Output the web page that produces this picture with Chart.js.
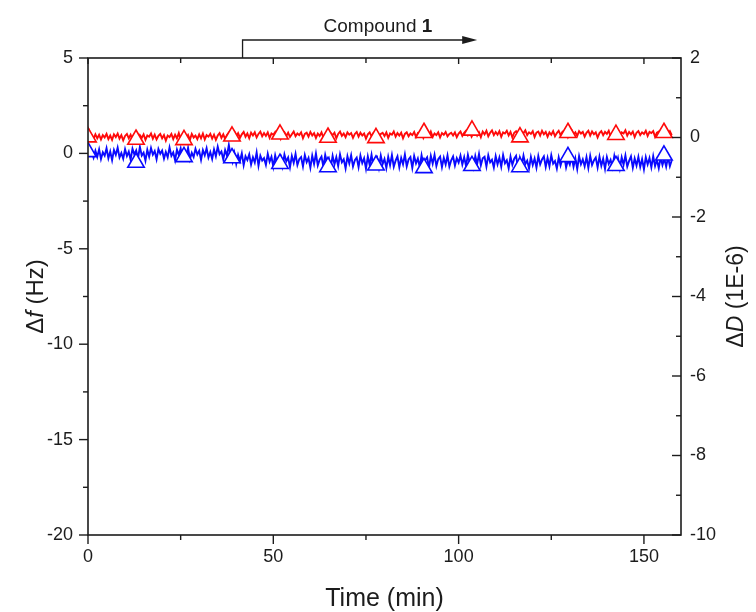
<!DOCTYPE html>
<html>
<head>
<meta charset="utf-8">
<script src="https://cdn.jsdelivr.net/npm/chart.js@4.4.1/dist/chart.umd.min.js"></script>
<style>
  html, body { margin: 0; padding: 0; background: #fff; }
  canvas { display: block; }
</style>
</head>
<body>
<canvas id="qcm" width="756" height="612"></canvas>
<script>
// QCM-D trace: frequency shift (left axis) and dissipation shift (right axis)
const sampleStep = 0.5; // minutes between recorded points

// Δf in Hz, one value per sample
const frequencyShift = [
  0.52, 0.25, 0.08, -0.22, 0.14, -0.18, 0.21, -0.30, 0.06, -0.12, 0.27, -0.25, 0.10, -0.35, 0.18, -0.08, 0.30, -0.21, 0.02, -0.28,
  0.22, -0.14, 0.09, -0.33, 0.25, -0.05, 0.16, -0.26, 0.34, -0.11, 0.04, -0.38, 0.19, -0.17, 0.28, -0.07, 0.12, -0.31, 0.23, -0.02,
  0.15, -0.27, 0.08, -0.20, 0.31, -0.13, 0.05, -0.36, 0.20, -0.09, 0.26, -0.24, 0.11, -0.16, 0.29, -0.30, 0.03, -0.19, 0.24, -0.06,
  0.13, -0.34, 0.17, -0.10, 0.27, -0.22, 0.07, -0.29, 0.21, -0.15, 0.35, -0.04, 0.10, -0.32, 0.18, -0.12,
  0.44, -0.10, -0.45, 0.02, -0.55, -0.08, -0.40, 0.00, -0.62, -0.15, -0.35, -0.05, -0.58, -0.20, -0.48, 0.05, -0.65, -0.12, -0.38, -0.25,
  -0.60, -0.02, -0.44, -0.18, -0.70, -0.10, -0.52, -0.28, -0.15, -0.66, -0.06, -0.42, -0.22, -0.72, -0.14, -0.50, -0.03, -0.61, -0.30, -0.19,
  -0.68, -0.09, -0.46, -0.24, -0.75, -0.12, -0.55, -0.01, -0.63, -0.33, -0.17, -0.70, -0.08, -0.49, -0.27, -0.74, -0.13, -0.58, -0.20, -0.66,
  -0.05, -0.47, -0.31, -0.78, -0.15, -0.53, -0.10, -0.69, -0.36, -0.22, -0.72, -0.11, -0.51, -0.26, -0.80, -0.16, -0.60, -0.07, -0.67, -0.34,
  -0.21, -0.74, -0.12, -0.56, -0.29, -0.77, -0.18, -0.62, -0.09, -0.70, -0.38, -0.15, -0.73, -0.24, -0.57, -0.06, -0.68, -0.32, -0.19, -0.76,
  -0.14, -0.52, -0.27, -0.71, -0.10, -0.61, -0.35, -0.20, -0.75, -0.13, -0.54, -0.08, -0.66, -0.30, -0.17, -0.72, -0.23, -0.58, -0.11, -0.69,
  -0.36, -0.16, -0.63, -0.25, -0.48,
  -0.12, -0.58, -0.20, -0.66, -0.08, -0.50, -0.30, -0.72, -0.14, -0.55, -0.03, -0.62, -0.26, -0.18, -0.69, -0.10, -0.47, -0.33, -0.74, -0.15,
  -0.57, -0.22, -0.70, -0.09, -0.52, -0.36, -0.78, -0.17, -0.60, -0.28, -0.13, -0.73, -0.24, -0.64, -0.11, -0.56, -0.38, -0.80, -0.19, -0.61,
  -0.27, -0.75, -0.14, -0.58, -0.32, -0.16, -0.71, -0.23, -0.67, -0.10, -0.54, -0.40, -0.79, -0.21, -0.63, -0.29, -0.12, -0.74, -0.35, -0.59,
  -0.18, -0.70, -0.26, -0.82, -0.15, -0.57, -0.31, -0.68, -0.20, -0.76, -0.13, -0.61, -0.37, -0.22, -0.73, -0.17, -0.65, -0.28, -0.81, -0.19,
  -0.55, -0.34, -0.72, -0.14, -0.62, -0.25, -0.78, -0.21, -0.59, -0.11, -0.69, -0.39, -0.16, -0.75, -0.27, -0.64, -0.18, -0.71, -0.30, -0.83,
  -0.20, -0.58, -0.24, -0.73, -0.15, -0.66, -0.33, -0.77, -0.22, -0.61, -0.28, -0.70, -0.19, -0.67, -0.36
];

// ΔD in 1E-6, one value per sample
const dissipationShift = [
  0.24, 0.13, 0.06, -0.03, 0.08, -0.02, 0.07, -0.05, 0.06, 0.00, 0.09, -0.04, 0.05, -0.06, 0.08, 0.01, 0.10, -0.03, 0.06, -0.07,
  0.04, 0.09, -0.02, 0.07, -0.05, 0.03, 0.11, -0.04, 0.06, -0.01, 0.08, -0.06, 0.05, 0.02, 0.10, -0.03, 0.07, -0.05, 0.04, 0.09,
  -0.02, 0.06, -0.08, 0.05, 0.01, 0.09, -0.04, 0.07, -0.02, 0.11, -0.05, 0.04, 0.08, -0.03, 0.06, -0.06, 0.09, 0.00, 0.05, -0.04,
  0.08, -0.02, 0.10, -0.05, 0.06, 0.02, 0.09, -0.03, 0.07, -0.06, 0.05, 0.11, -0.01, 0.08, -0.04, 0.06,
  0.12, 0.01, 0.09, 0.15, 0.03, 0.11, -0.01, 0.08, 0.14, 0.02, 0.10, -0.02, 0.12, 0.05, 0.13, 0.00, 0.09, 0.15, 0.03, 0.11,
  0.04, 0.13, -0.01, 0.10, 0.07, 0.14, 0.02, 0.11, -0.03, 0.09, 0.13, 0.04, 0.12, 0.01, 0.08, 0.15, 0.03, 0.10, 0.06, 0.13,
  -0.02, 0.09, 0.12, 0.02, 0.14, 0.05, 0.11, -0.01, 0.10, 0.04, 0.13, 0.00, 0.08, 0.14, 0.03, 0.11, 0.06, 0.12, -0.02, 0.09,
  0.15, 0.04, 0.10, 0.01, 0.13, 0.07, 0.11, -0.01, 0.09, 0.14, 0.02, 0.12, 0.05, 0.10, -0.03, 0.08, 0.13, 0.03, 0.11, 0.06,
  0.14, 0.00, 0.09, 0.12, 0.04, 0.13, -0.01, 0.10, 0.07, 0.15, 0.02, 0.11, 0.05, 0.12, -0.02, 0.09, 0.13, 0.03, 0.10, 0.06,
  0.14, 0.01, 0.11, 0.08, 0.13, -0.01, 0.09, 0.12, 0.04, 0.15, 0.02, 0.10, 0.06, 0.13, 0.00, 0.11, 0.07, 0.14, 0.03, 0.09,
  0.12, 0.05, 0.13, 0.01, 0.10,
  0.15, 0.04, 0.12, 0.17, 0.06, 0.14, 0.02, 0.11, 0.16, 0.05, 0.13, 0.01, 0.15, 0.08, 0.17, 0.03, 0.12, 0.18, 0.06, 0.14,
  0.07, 0.16, 0.02, 0.13, 0.10, 0.17, 0.05, 0.14, 0.00, 0.12, 0.16, 0.07, 0.15, 0.04, 0.11, 0.18, 0.06, 0.13, 0.09, 0.16,
  0.01, 0.12, 0.15, 0.05, 0.17, 0.08, 0.14, 0.02, 0.13, 0.07, 0.16, 0.03, 0.11, 0.17, 0.06, 0.14, 0.09, 0.15, 0.01, 0.12,
  0.18, 0.07, 0.13, 0.04, 0.16, 0.10, 0.14, 0.02, 0.12, 0.17, 0.05, 0.15, 0.08, 0.13, 0.00, 0.11, 0.16, 0.06, 0.14, 0.09,
  0.17, 0.03, 0.12, 0.15, 0.07, 0.16, 0.02, 0.13, 0.10, 0.18, 0.05, 0.14, 0.08, 0.15, 0.01, 0.12, 0.16, 0.06, 0.13, 0.09,
  0.17, 0.04, 0.14, 0.11, 0.16, 0.02, 0.12, 0.15, 0.07, 0.18, 0.05, 0.13, 0.09, 0.16, 0.06
];

// Symbol points (every n-th sample is flagged with a triangle)
const markerTimes = [0, 12.95, 25.9, 38.85, 51.8, 64.75, 77.7, 90.65, 103.6, 116.55, 129.5, 142.45, 155.4];
const frequencyMarkers = [0.08, -0.48, -0.18, -0.24, -0.54, -0.71, -0.62, -0.76, -0.65, -0.71, -0.18, -0.65, -0.10];
const dissipationMarkers = [0.01, -0.05, -0.06, 0.03, 0.08, 0.00, -0.01, 0.12, 0.18, 0.01, 0.12, 0.07, 0.12];

// Axis ticks
const timeTicks = [0, 50, 100, 150];
const timeMinorTicks = [25, 75, 125];
const frequencyTicks = [-20, -15, -10, -5, 0, 5];
const frequencyMinorTicks = [-17.5, -12.5, -7.5, -2.5, 2.5];
const dissipationTicks = [-10, -8, -6, -4, -2, 0, 2];
const dissipationMinorTicks = [-9, -7, -5, -3, -1, 1];

// Compound 1 exposure, minutes (start, arrow tip)
const compoundWindow = [41.7, 105];

const FONT = '"Liberation Sans", Arial, Helvetica, sans-serif';
const INK = '#1c1c1c';
const RED = 'rgb(255, 10, 10)';
const BLUE = 'rgb(10, 10, 255)';

const asPoints = (vals) => vals.map((v, i) => ({ x: i * sampleStep, y: v }));
const markerPoints = (vals) => vals.map((v, i) => ({ x: markerTimes[i], y: v }));
const fixedTicks = (list) => (scale) => { scale.ticks = list.map((v) => ({ value: v })); };

function richText(ctx, parts, cx, cy, angle) {
  ctx.save();
  ctx.translate(cx, cy);
  ctx.rotate(angle);
  ctx.textBaseline = 'middle';
  ctx.textAlign = 'left';
  let total = 0;
  parts.forEach((p) => { ctx.font = p.font; p.w = ctx.measureText(p.text).width; total += p.w; });
  let x = -total / 2;
  parts.forEach((p) => { ctx.font = p.font; ctx.fillText(p.text, x, 0); x += p.w; });
  ctx.restore();
}

const framePlugin = {
  id: 'frameAndNotes',
  afterDatasetsDraw(chart) {
    const { ctx, chartArea: a, scales } = chart;
    const xs = scales.x, yl = scales.y, yr = scales.y1;
    ctx.save();
    ctx.strokeStyle = INK;
    ctx.fillStyle = INK;
    ctx.lineCap = 'butt';

    // plot box
    ctx.lineWidth = 1.6;
    ctx.strokeRect(a.left, a.top, a.right - a.left, a.bottom - a.top);

    const seg = (x1, y1, x2, y2) => { ctx.beginPath(); ctx.moveTo(x1, y1); ctx.lineTo(x2, y2); ctx.stroke(); };
    ctx.lineWidth = 1.4;

    // left axis: outward ticks
    frequencyTicks.forEach((v) => { const p = yl.getPixelForValue(v); seg(a.left - 9, p, a.left, p); });
    frequencyMinorTicks.forEach((v) => { const p = yl.getPixelForValue(v); seg(a.left - 5, p, a.left, p); });
    // right axis: inward ticks
    dissipationTicks.forEach((v) => { const p = yr.getPixelForValue(v); seg(a.right - 9, p, a.right, p); });
    dissipationMinorTicks.forEach((v) => { const p = yr.getPixelForValue(v); seg(a.right - 5, p, a.right, p); });
    // bottom axis: outward ticks
    timeTicks.forEach((v) => { const p = xs.getPixelForValue(v); seg(p, a.bottom, p, a.bottom + 9); });
    timeMinorTicks.forEach((v) => { const p = xs.getPixelForValue(v); seg(p, a.bottom, p, a.bottom + 5); });
    // top axis: inward ticks
    timeTicks.forEach((v) => { const p = xs.getPixelForValue(v); seg(p, a.top, p, a.top + 6); });
    timeMinorTicks.forEach((v) => { const p = xs.getPixelForValue(v); seg(p, a.top, p, a.top + 5); });

    // compound addition arrow
    const x0 = xs.getPixelForValue(compoundWindow[0]);
    const x1 = xs.getPixelForValue(compoundWindow[1]);
    const ya = a.top - 18;
    ctx.lineWidth = 1.3;
    ctx.beginPath();
    ctx.moveTo(x0, a.top);
    ctx.lineTo(x0, ya);
    ctx.lineTo(x1 - 10, ya);
    ctx.stroke();
    ctx.beginPath();
    ctx.moveTo(x1, ya);
    ctx.lineTo(x1 - 15, ya - 4);
    ctx.lineTo(x1 - 15, ya + 4);
    ctx.closePath();
    ctx.fill();

    ctx.textBaseline = 'alphabetic';
    ctx.textAlign = 'left';
    ctx.font = `19px ${FONT}`;
    const label = 'Compound ';
    const tx = x0 + 81;
    ctx.fillText(label, tx, a.top - 26);
    const lw = ctx.measureText(label).width;
    ctx.font = `bold 19px ${FONT}`;
    ctx.fillText('1', tx + lw, a.top - 26);

    // axis titles
    const midY = (a.top + a.bottom) / 2;
    richText(ctx, [
      { text: 'Δ', font: `24px ${FONT}` },
      { text: 'f', font: `italic 24px ${FONT}` },
      { text: ' (Hz)', font: `24px ${FONT}` }
    ], 36, midY, -Math.PI / 2);
    richText(ctx, [
      { text: 'Δ', font: `23px ${FONT}` },
      { text: 'D', font: `italic 23px ${FONT}` },
      { text: ' (1E-6)', font: `23px ${FONT}` }
    ], 737, midY, -Math.PI / 2);
    ctx.textAlign = 'center';
    ctx.textBaseline = 'alphabetic';
    ctx.font = `25px ${FONT}`;
    ctx.fillText('Time (min)', (a.left + a.right) / 2, 606);

    ctx.restore();
  }
};

const tickFont = { family: FONT, size: 18 };

new Chart(document.getElementById('qcm'), {
  type: 'scatter',
  data: {
    datasets: [
      {
        label: 'ΔD symbols', data: markerPoints(dissipationMarkers), yAxisID: 'y1',
        pointStyle: 'triangle', pointRadius: 9.5, pointBorderWidth: 1.6,
        pointBackgroundColor: '#fff', pointBorderColor: RED, showLine: false, clip: 0, order: 0
      },
      {
        label: 'Δf symbols', data: markerPoints(frequencyMarkers), yAxisID: 'y',
        pointStyle: 'triangle', pointRadius: 9.5, pointBorderWidth: 1.6,
        pointBackgroundColor: '#fff', pointBorderColor: BLUE, showLine: false, clip: 0, order: 0
      },
      {
        label: 'ΔD', data: asPoints(dissipationShift), yAxisID: 'y1',
        showLine: true, borderColor: RED, borderWidth: 1.9, pointRadius: 0, tension: 0, clip: 0, order: 1
      },
      {
        label: 'Δf', data: asPoints(frequencyShift), yAxisID: 'y',
        showLine: true, borderColor: BLUE, borderWidth: 1.9, pointRadius: 0, tension: 0, clip: 0, order: 2
      }
    ]
  },
  options: {
    responsive: false,
    animation: false,
    events: [],
    layout: { padding: { top: 58, left: 0, right: 0, bottom: 0 } },
    plugins: { legend: { display: false }, tooltip: { enabled: false } },
    scales: {
      x: {
        type: 'linear', position: 'bottom', min: 0, max: 160,
        afterBuildTicks: fixedTicks(timeTicks),
        afterFit: (s) => { s.height = 77; },
        grid: { display: false, drawTicks: false },
        border: { display: false },
        ticks: { font: tickFont, color: INK, padding: 11, autoSkip: false, maxRotation: 0 }
      },
      y: {
        type: 'linear', position: 'left', min: -20, max: 5,
        afterBuildTicks: fixedTicks(frequencyTicks),
        afterFit: (s) => { s.width = 88; },
        grid: { display: false, drawTicks: false },
        border: { display: false },
        ticks: { font: tickFont, color: INK, padding: 15 }
      },
      y1: {
        type: 'linear', position: 'right', min: -10, max: 2,
        afterBuildTicks: fixedTicks(dissipationTicks),
        afterFit: (s) => { s.width = 75; },
        grid: { display: false, drawTicks: false },
        border: { display: false },
        ticks: { font: tickFont, color: INK, padding: 9 }
      }
    }
  },
  plugins: [framePlugin]
});
</script>
</body>
</html>
